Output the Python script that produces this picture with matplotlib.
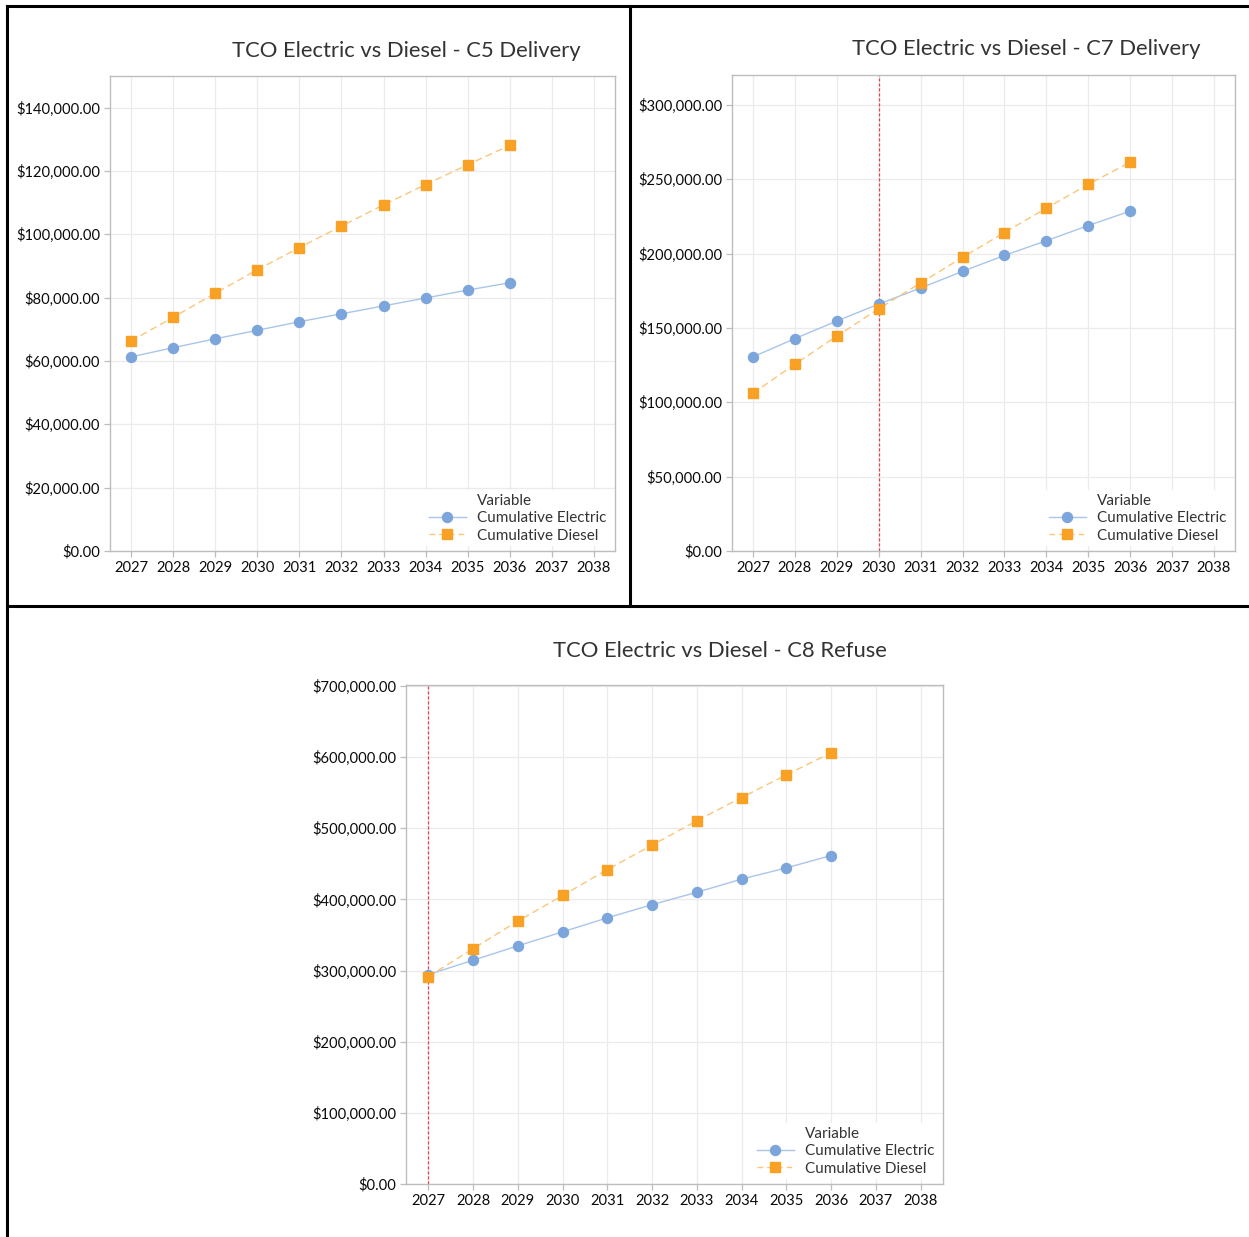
import matplotlib
matplotlib.use("Agg")
import matplotlib.pyplot as plt
from matplotlib.lines import Line2D
from matplotlib.ticker import FuncFormatter

plt.rcParams['font.family'] = ['Lato', 'DejaVu Sans']

years = [2027, 2028, 2029, 2030, 2031, 2032, 2033, 2034, 2035, 2036]
year_ticks = list(range(2027, 2039))

c5_electric = [61300, 64200, 67000, 69700, 72400, 74900, 77400, 79900, 82400, 84700]
c5_diesel = [66300, 73800, 81400, 88800, 95800, 102600, 109300, 115700, 122000, 128100]

c7_electric = [130500, 142800, 154600, 166000, 176800, 188000, 198700, 208600, 218800, 228500]
c7_diesel = [106000, 125600, 144400, 162900, 180200, 197400, 214100, 230500, 246500, 261400]

c8_electric = [294400, 314600, 334800, 354500, 374200, 392700, 410100, 428600, 444400, 461800]
c8_diesel = [291600, 330900, 369700, 405600, 442100, 476400, 510700, 543300, 575300, 606200]

titles = ["TCO Electric vs Diesel - C5 Delivery",
          "TCO Electric vs Diesel - C7 Delivery",
          "TCO Electric vs Diesel - C8 Refuse"]

ELEC_MARK = '#7BA5DB'
ELEC_LINE = '#A9C5EA'
DIES_MARK = '#F8A124'
DIES_LINE = '#FBC679'
GRID = '#EBEBEB'
SPINE = '#BDBDBD'
BREAK = '#E2484A'

W, H = 1249, 1237
fig = plt.figure(figsize=(W / 100, H / 100), dpi=100)


def frac(x0, y0, x1, y1):
    return [x0 / W, 1 - y1 / H, (x1 - x0) / W, (y1 - y0) / H]


money = FuncFormatter(lambda v, p: f"${v:,.2f}")


def panel(rect, elec, dies, ymax, ystep, title, title_xy, breakeven=None):
    ax = fig.add_axes(rect)
    ax.set_xlim(2026.5, 2038.5)
    ax.set_ylim(0, ymax)
    ax.set_xticks(year_ticks)
    ax.set_yticks(range(0, int(ymax) + 1, ystep))
    ax.yaxis.set_major_formatter(money)
    ax.grid(True, color=GRID, lw=0.9)
    ax.set_axisbelow(True)
    for s in ax.spines.values():
        s.set_color(SPINE)
        s.set_linewidth(1.0)
    ax.tick_params(axis='both', colors=SPINE, labelcolor='#0A0A0A',
                   labelsize=10.6, length=4, width=0.9, pad=3)
    if breakeven is not None:
        ax.axvline(breakeven, color=BREAK, lw=0.9, ls=(0, (2.5, 1.5)), zorder=1)
    ax.plot(years, elec, color=ELEC_LINE, lw=1.0, zorder=2)
    ax.plot(years, elec, ls='none', marker='o', ms=7.2, color=ELEC_MARK, zorder=3)
    ax.plot(years, dies, color=DIES_LINE, lw=1.0, ls=(0, (5, 3)), zorder=2)
    ax.plot(years, dies, ls='none', marker='s', ms=7, color=DIES_MARK, zorder=4)

    h_title = Line2D([], [], ls='none', marker=None)
    h_e = Line2D([], [], color=ELEC_LINE, lw=1.0, marker='o', ms=7.2,
                 markerfacecolor=ELEC_MARK, markeredgecolor=ELEC_MARK)
    h_d = Line2D([], [], color=DIES_LINE, lw=1.0, ls=(0, (4, 3)), marker='s', ms=7,
                 markerfacecolor=DIES_MARK, markeredgecolor=DIES_MARK)
    leg = ax.legend([h_title, h_e, h_d],
                    ["Variable", "Cumulative Electric", "Cumulative Diesel"],
                    loc='lower right', frameon=True, fancybox=False,
                    edgecolor='none', facecolor='white', framealpha=1,
                    fontsize=11, handlelength=2.4, handletextpad=0.75,
                    labelspacing=0.22, borderpad=0.25, borderaxespad=0.3)
    for t in leg.get_texts():
        t.set_color('#333333')
    fig.text(title_xy[0] / W, 1 - title_xy[1] / H, title, ha='center',
             va='center', fontsize=15.8, color='#333333')
    return ax


panel(frac(110, 76, 615, 551), c5_electric, c5_diesel, 150000, 20000,
      titles[0], (406, 51))
panel(frac(732, 75, 1235, 551), c7_electric, c7_diesel, 320000, 50000,
      titles[1], (1026, 49), breakeven=2030)
panel(frac(406, 685, 943, 1184), c8_electric, c8_diesel, 701500, 100000,
      titles[2], (720, 651), breakeven=2027)

# Panel frames
border = dict(color='black', lw=2.2, transform=fig.transFigure, clip_on=False)
fig.add_artist(Line2D([7 / W, 1], [1 - 6 / H, 1 - 6 / H], **border))
fig.add_artist(Line2D([7 / W, 7 / W], [1 - 6 / H, 0], **border))
fig.add_artist(Line2D([7 / W, 1], [1 - 606 / H, 1 - 606 / H], **border))
fig.add_artist(Line2D([630 / W, 630 / W], [1 - 6 / H, 1 - 606 / H], **border))

fig.savefig("out.png", dpi=100, facecolor='white')
